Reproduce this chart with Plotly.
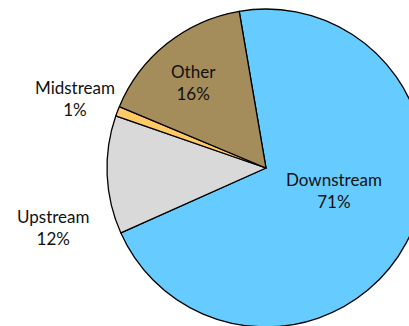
import plotly.graph_objects as go

# Share of activity by segment (%)
segments = ["Downstream", "Upstream", "Midstream", "Other"]
shares = [71, 12, 1, 16]
colors = ["#66CCFF", "#D9D9D9", "#FFC966", "#A58C5B"]

# Label centres in pixels (x, y from top) for each segment
label_px = [(334, 191), (53, 227), (75, 98), (193, 82)]

W, H = 430, 330
FONT = "Lato, Calibri, Carlito, sans-serif"

fig = go.Figure(
    go.Pie(
        labels=segments,
        values=shares,
        sort=False,
        direction="clockwise",
        rotation=-9.7,
        marker=dict(colors=colors, line=dict(color="#000000", width=1.3)),
        textinfo="none",
        hoverinfo="label+percent",
        domain=dict(x=[107 / W, 425 / W], y=[3 / H, 321 / H]),
        showlegend=False,
    )
)

for name, val, (px, py) in zip(segments, shares, label_px):
    fig.add_annotation(
        x=px / W, y=1 - py / H, xref="paper", yref="paper",
        text=f"{name}<br>{val}%", showarrow=False,
        xanchor="center", yanchor="middle", align="center",
        font=dict(family=FONT, size=17, color="#111111"),
    )

fig.update_layout(
    width=W, height=H,
    margin=dict(l=0, r=0, t=0, b=0),
    paper_bgcolor="white", plot_bgcolor="white",
)

fig.write_html(
    "out.html",
    config={"displayModeBar": False},
    post_script="document.body.style.overflow='hidden';document.documentElement.style.overflow='hidden';",
)
